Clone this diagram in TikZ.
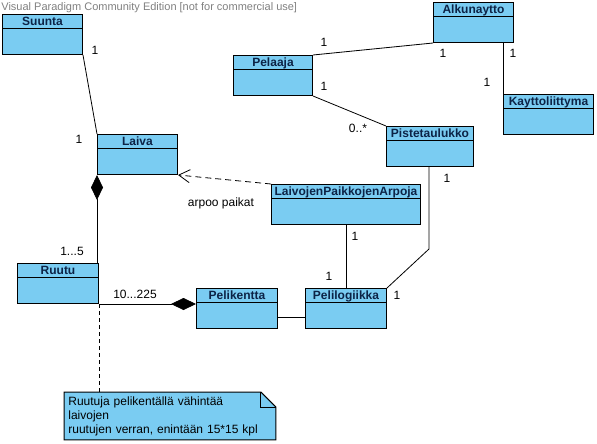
\documentclass[tikz,border=0pt]{standalone}
\usepackage{fontspec}
\setmainfont{Liberation Sans}
\usepackage{tikz}
\usetikzlibrary{positioning}
\usetikzlibrary{arrows.meta,backgrounds}

\definecolor{clsfill}{HTML}{7ACCF2}
\definecolor{clstext}{HTML}{0C2346}

\tikzset{
	cls/.style={draw,fill=clsfill,line width=1pt,anchor=north west,minimum height=40pt,inner sep=0pt,
		path picture={\draw[line width=1pt] ([yshift=-14pt]path picture bounding box.north west) -- ([yshift=-14pt]path picture bounding box.north east);}},
	title/.style={anchor=north,font=\bfseries\fontsize{12}{14}\selectfont,text=clstext,inner sep=0pt,text height=8.5pt,text depth=0pt,yshift=-3pt},
	mult/.style={font=\fontsize{12}{14}\selectfont,inner sep=0pt},
	comp/.style={{Diamond[length=25pt,width=12pt]}-}
}

\begin{document}
\begin{tikzpicture}[x=1pt,y=-1pt,line width=0.8pt]
	\useasboundingbox (0,0) rectangle (597,444);
	\node[anchor=base west,font=\fontsize{11}{13}\selectfont,text=black!50,inner sep=0pt] (watermark) at (1,11) {Visual Paradigm Community Edition [not for commercial use]};

	% classes
	\node[cls,minimum width=80pt,label={[title]north:Suunta}] (suunta) at (2,14) {};
	\node[cls,minimum width=80pt,label={[title]north:Laiva}] (laiva) at (97,134) {};
	\node[cls,minimum width=79pt,label={[title]north:Pelaaja}] (pelaaja) at (233,55) {};
	\node[cls,minimum width=80pt,label={[title]north:Alkunaytto}] (alkunaytto) at (433,2) {};
	\node[cls,minimum width=90pt,label={[title]north:Kayttoliittyma}] (kayttoliittyma) at (503,94) {};
	\node[cls,minimum width=87pt,label={[title]north:Pistetaulukko}] (pistetaulukko) at (386,126) {};
	\node[cls,minimum width=149pt,label={[title]north:LaivojenPaikkojenArpoja}] (arpoja) at (271,184) {};
	\node[cls,minimum width=81pt,label={[title]north:Pelilogiikka}] (pelilogiikka) at (305,288) {};
	\node[cls,minimum width=81pt,label={[title]north:Pelikentta}] (pelikentta) at (196,288) {};
	\node[cls,minimum width=81pt,label={[title]north:Ruutu}] (ruutu) at (17,263) {};

	% note
	\node[anchor=north west,align=left,text width=203pt,minimum height=47pt,inner xsep=4pt,inner ysep=0pt,font=\fontsize{12}{14}\selectfont] (note) at (64,392)
		{Ruutuja pelikentällä vähintää\\laivojen\\ruutujen verran, enintään 15*15 kpl};
	\begin{scope}[on background layer]
		\filldraw[fill=clsfill,line width=1pt] (note.north west) -- ([xshift=-15pt]note.north east) -- ([yshift=-15pt]note.north east) -- (note.south east) -- (note.south west) -- cycle;
		\draw[line width=1pt] ([xshift=-15pt]note.north east) -- ([xshift=-15pt,yshift=-15pt]note.north east) -- ([yshift=-15pt]note.north east);
	\end{scope}

	% connectors
	\coordinate (bend) at (429,249);
	\draw (suunta.south east) -- (laiva.north west);
	\draw[comp] (laiva.south west) -- (laiva.south west |- ruutu.north);
	\draw[dash pattern=on 6pt off 4pt,-{Straight Barb[length=11pt,width=13pt]}] (arpoja.north west) -- (laiva.south east);
	\draw (pelaaja.north east) -- (alkunaytto.south west);
	\draw (kayttoliittyma.north west) -- (kayttoliittyma.north west |- alkunaytto.south);
	\draw (pelaaja.south east) -- (pistetaulukko.north west);
	\draw (pistetaulukko.south -| bend) -- (bend) -- (pelilogiikka.north east);
	\draw (arpoja.south) -- (arpoja.south |- pelilogiikka.north);
	\draw ([yshift=-9pt]pelikentta.east) -- ([yshift=-9pt]pelikentta.east -| pelilogiikka.west);
	\draw[-{Diamond[length=25pt,width=12pt]}] (ruutu.south east) -- (ruutu.south east -| pelikentta.west);
	\draw[dash pattern=on 4pt off 3pt] (ruutu.south east) -- (ruutu.south east |- note.north);

	% multiplicities
	\node[mult] (m1) at (95,50) {1};
	\node[mult] (m2) at (79,139) {1};
	\node[mult,anchor=base] (arpoo) at (221,206) {arpoo paikat};
	\node[mult] (m3) at (72,251) {1...5};
	\node[mult] (m4) at (135,294) {10...225};
	\node[mult] (m5) at (324,42) {1};
	\node[mult] (m6) at (443,53) {1};
	\node[mult] (m7) at (513,53) {1};
	\node[mult] (m8) at (487,82) {1};
	\node[mult] (m9) at (324,86) {1};
	\node[mult] (m10) at (358,128) {0..*};
	\node[mult] (m11) at (447,178) {1};
	\node[mult] (m12) at (355,236) {1};
	\node[mult] (m13) at (329,276) {1};
	\node[mult] (m14) at (397,295) {1};
\end{tikzpicture}
\end{document}
